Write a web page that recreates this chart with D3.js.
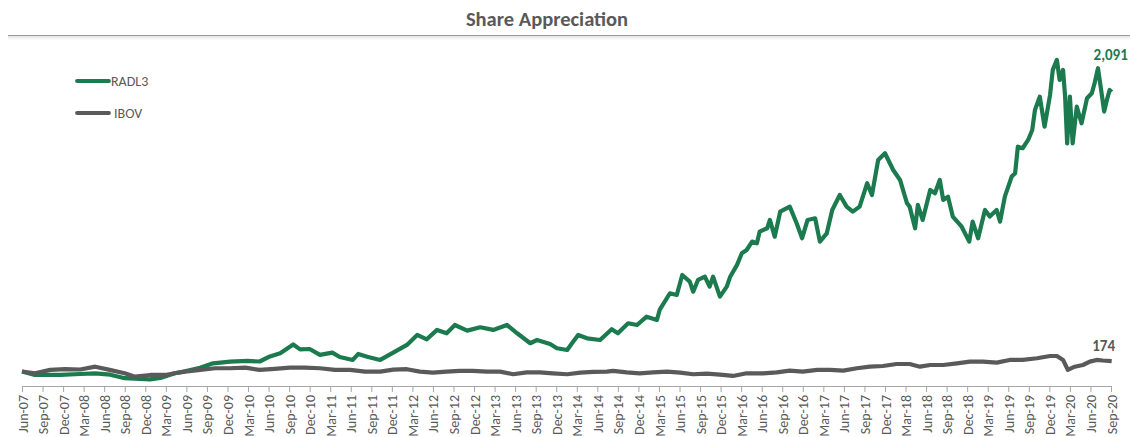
<!DOCTYPE html>
<html>
<head>
<meta charset="utf-8">
<script src="https://cdn.jsdelivr.net/npm/d3@7"></script>
<style>
  html, body { margin: 0; padding: 0; background: #fff; }
  svg { display: block; font-family: Carlito, Lato, "Open Sans", sans-serif; }
</style>
</head>
<body>
<svg id="chart" width="1130" height="437"></svg>
<script>
// ---- Data (months elapsed since Jun-2007, index values base 100) ----
const radlMonths = [0,1.9,5.6,8.5,10.7,12.9,15.0,18.7,20.2,22.3,
  23.8,26.0,27.9,30.4,32.9,34.7,36.2,37.7,39.6,40.6,
  42.0,43.5,45.3,46.4,48.3,49.1,50.4,52.3,54.2,56.2,
  57.7,59.1,60.6,62.0,63.2,65.0,66.9,68.8,70.8,72.3,
  74.2,75.2,77.1,78.1,79.6,80.3,81.2,82.5,84.4,86.1,
  87.0,88.5,89.8,91.2,92.7,93.1,94.6,95.6,96.4,97.5,
  98.0,98.7,99.7,100.4,100.9,101.9,102.9,103.4,104.4,105.1,
  105.8,106.6,107.3,107.7,108.8,109.2,109.9,110.7,112.1,113.1,
  113.9,114.7,115.8,116.5,117.5,118.3,119.4,120.4,121.3,122.3,
  123.4,124.1,125.0,126.0,127.2,128.2,129.2,129.6,130.4,130.8,
  131.5,132.6,133.3,134.0,134.5,135.2,135.9,137.2,138.3,138.8,
  139.6,140.6,141.3,142.3,142.8,143.5,144.5,145.0,145.4,146.1,
  146.9,147.5,147.9,148.6,149.3,150.1,150.5,151.1,151.5,152.0,
  152.3,152.6,153.0,153.4,154.0,154.7,155.5,156.2,156.6,157.1,
  157.7,158.0,158.4,158.8,159.1];
const radlValues = [100,75,75,82,87,77,52,44,54,87,
  101,127,158,170,175,171,207,230,292,257,
  260,218,234,203,182,225,205,182,234,289,
  360,329,396,372,431,391,415,396,431,372,
  301,324,296,265,253,301,360,336,324,401,
  372,443,431,490,467,538,657,645,787,740,
  668,752,775,704,775,633,704,775,859,942,
  965,1025,1013,1096,1120,1179,1060,1238,1274,1156,
  1049,1179,1191,1025,1084,1250,1357,1274,1238,1274,
  1441,1357,1606,1654,1535,1464,1300,1274,1120,1286,
  1179,1393,1369,1464,1322,1345,1203,1131,1025,1167,
  1049,1250,1203,1250,1167,1345,1488,1512,1701,1690,
  1749,1820,1963,2057,1844,2069,2248,2319,2176,2248,
  2057,1725,2057,1725,1986,1868,2046,2082,2153,2260,
  2057,1951,2034,2105,2091];

const ibovMonths = [0,1.9,4.1,6.3,8.5,10.7,12.8,15.0,16.5,18.7,
  20.9,22.3,23.8,26.0,28.2,30.4,32.6,34.7,36.9,39.1,
  41.3,43.5,45.7,47.9,50.1,52.3,54.2,56.2,58.1,60.0,
  62.0,63.9,65.8,67.9,69.8,71.7,73.7,75.6,77.5,79.6,
  81.5,83.4,85.4,86.3,88.3,90.2,92.1,94.2,96.1,98.0,
  100.0,101.9,103.8,105.8,108.2,110.2,112.1,114.0,116.1,118.0,
  119.9,121.9,123.8,125.7,127.7,129.6,131.1,132.6,134.5,136.5,
  138.4,140.3,142.3,144.2,146.1,148.2,150.1,151.1,152.0,152.7,
  153.7,154.9,155.9,156.9,157.8,159.1];
const ibovValues = [100,87,111,116,114,134,111,87,63,75,
  75,87,99,111,123,123,127,111,118,127,
  127,123,111,111,99,99,113,116,99,92,
  99,104,104,99,99,80,94,94,87,80,
  92,97,99,104,94,87,94,99,92,80,
  84,78,68,87,87,94,106,99,111,111,
  106,123,134,139,153,153,134,146,146,158,
  170,170,163,182,182,194,210,210,182,111,
  134,146,170,182,178,174];

const tickLabels = ["Jun-07","Sep-07","Dec-07","Mar-08","Jun-08","Sep-08","Dec-08","Mar-09",
  "Jun-09","Sep-09","Dec-09","Mar-10","Jun-10","Sep-10","Dec-10","Mar-11","Jun-11","Sep-11",
  "Dec-11","Mar-12","Jun-12","Sep-12","Dec-12","Mar-13","Jun-13","Sep-13","Dec-13","Mar-14",
  "Jun-14","Sep-14","Dec-14","Mar-15","Jun-15","Sep-15","Dec-15","Mar-16","Jun-16","Sep-16",
  "Dec-16","Mar-17","Jun-17","Sep-17","Dec-17","Mar-18","Jun-18","Sep-18","Dec-18","Mar-19",
  "Jun-19","Sep-19","Dec-19","Mar-20","Jun-20","Sep-20"];
const tickMonths = [0,3,6,9,12,15,18,21,24,27,30,33,36,39,42,45,48,51,54,57,60,63,66,69,72,75,78,81,
  84,87,90,93,96,99,102,105,108,111,114,117,120,123,126,129,132,135,138,141,144,147,150,153,156,159];

const seriesNames = ["RADL3", "IBOV"];
const endLabels = ["2,091", "174"];

// ---- Chart ----
const GREEN = "#1b7a4e", GREY = "#5a5a5a", TEXT = "#595959";
const svg = d3.select("#chart");

const x = d3.scaleLinear().domain([0, 159]).range([22, 1111]);
const y = d3.scaleLinear().domain([0, 2500]).range([385.5, 34.5]);

// title + separator
svg.append("text").attr("x", 547).attr("y", 26).attr("text-anchor", "middle")
  .attr("font-size", 20.5).attr("font-weight", 700).attr("fill", TEXT).text("Share Appreciation");
const defs = svg.append("defs");
const grad = defs.append("linearGradient").attr("id", "sh").attr("x1", 0).attr("x2", 0).attr("y1", 0).attr("y2", 1);
grad.append("stop").attr("offset", 0).attr("stop-color", "#e4e4e4");
grad.append("stop").attr("offset", 1).attr("stop-color", "#ffffff");
svg.append("rect").attr("x", 8).attr("y", 36).attr("width", 1122).attr("height", 4).attr("fill", "url(#sh)");
svg.append("line").attr("x1", 8).attr("x2", 1130).attr("y1", 35.5).attr("y2", 35.5)
  .attr("stroke", "#9a9a9a").attr("stroke-width", 1.2);

// x axis
const axis = d3.axisBottom(x).tickValues(tickMonths)
  .tickFormat((d, i) => tickLabels[i]).tickSize(6).tickSizeOuter(0);
const gx = svg.append("g").attr("transform", `translate(0,${y(0) + 0.5})`).call(axis);
gx.select(".domain").attr("stroke", "#a6a6a6");
gx.selectAll(".tick line").attr("stroke", "#a6a6a6");
gx.selectAll(".tick text")
  .attr("fill", TEXT).attr("font-size", 14)
  .attr("font-family", "Carlito, Lato, sans-serif")
  .attr("text-anchor", "end")
  .attr("transform", "rotate(-90)")
  .attr("x", -9).attr("y", 0).attr("dy", "0.36em");

// lines
const line = d3.line().x(d => x(d[0])).y(d => y(d[1])).curve(d3.curveLinear);
const radl = d3.zip(radlMonths, radlValues);
const ibov = d3.zip(ibovMonths, ibovValues);

svg.append("path").datum(radl).attr("d", line).attr("fill", "none")
  .attr("stroke", GREEN).attr("stroke-width", 4.2).attr("stroke-linejoin", "round");
svg.append("path").datum(ibov).attr("d", line).attr("fill", "none")
  .attr("stroke", GREY).attr("stroke-width", 4.2).attr("stroke-linejoin", "round");

// end labels
const lastR = radl[radl.length - 1], lastI = ibov[ibov.length - 1];
svg.append("text").attr("x", x(lastR[0]) - 1).attr("y", y(lastR[1]) - 32)
  .attr("text-anchor", "middle").attr("font-size", 15).attr("font-weight", 700)
  .attr("fill", GREEN).text(endLabels[0]);
svg.append("text").attr("x", x(lastI[0]) - 8).attr("y", y(lastI[1]) - 10)
  .attr("text-anchor", "middle").attr("font-size", 15).attr("font-weight", 700)
  .attr("fill", TEXT).text(endLabels[1]);

// legend
const legend = svg.append("g");
[[GREEN, 81], [GREY, 113]].forEach(([c, yy], i) => {
  legend.append("line").attr("x1", 77).attr("x2", 109).attr("y1", yy).attr("y2", yy)
    .attr("stroke", c).attr("stroke-width", 3.8).attr("stroke-linecap", "round");
  legend.append("text").attr("x", i === 0 ? 111 : 114).attr("y", yy + 5)
    .attr("font-size", 14).attr("fill", TEXT).text(seriesNames[i]);
});
</script>
</body>
</html>
